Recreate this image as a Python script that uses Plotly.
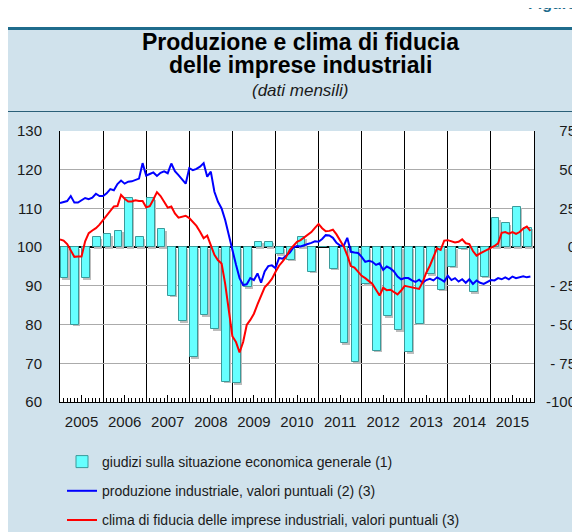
import plotly.graph_objects as go

# ---------------- data ----------------
years = list(range(2005, 2016))
year_labels = [str(y) for y in years]

# produzione industriale (monthly, Jan 2005 - Dec 2015), left axis
produzione = [
    111.4, 111.6, 111.9, 113.2, 111.5, 111.5, 112.2, 112.7, 112.4, 112.8, 113.8, 113.2,
    113.2, 113.9, 115.0, 114.7, 116.3, 117.2, 116.4, 116.9, 117.0, 117.4, 117.7, 121.7,
    118.5, 118.9, 119.3, 118.4, 119.2, 119.6, 119.1, 121.6, 119.6, 118.6, 117.6, 116.4,
    120.4, 119.9, 120.2, 120.8, 121.7, 118.2, 119.5, 114.3, 111.7, 110.0, 107.0, 103.0,
    99.2, 95.5, 92.0, 90.2, 90.4, 92.0, 91.5, 93.2, 90.8, 93.7, 95.1, 95.3,
    94.6, 97.2, 97.0, 97.7, 98.6, 99.9, 100.3, 100.2, 100.4, 100.8, 101.1, 101.5,
    101.4, 102.1, 103.1, 103.0, 102.4, 101.1, 100.4, 100.3, 102.4, 98.8, 98.6, 98.5,
    97.5, 96.2, 96.5, 96.2, 95.4, 95.8, 94.1, 95.0, 94.5, 93.7, 92.4, 91.7,
    92.0, 92.0, 91.4, 91.0, 91.6, 90.8, 91.5, 91.8, 91.4, 92.2, 91.7, 91.1,
    92.6, 91.5, 92.0, 91.1, 91.7, 90.8, 91.7, 90.5, 91.4, 90.8, 90.5, 91.1,
    91.5, 91.4, 92.0, 91.7, 92.2, 91.7, 92.4, 92.0, 92.2, 92.5, 92.2, 92.4,
]

# clima di fiducia delle imprese industriali (monthly), left axis
clima = [
    102.0, 101.7, 100.8, 99.0, 97.5, 97.6, 97.6, 101.5, 103.6, 104.3, 104.9, 105.8,
    107.0, 108.3, 109.3, 110.5, 110.6, 113.5, 112.5, 111.8, 111.8, 112.1, 111.9, 111.9,
    110.3, 110.6, 112.3, 114.2, 113.2, 111.8, 110.2, 110.5, 108.7, 107.6, 107.8, 108.1,
    107.5, 106.5, 105.5, 104.0, 102.3, 103.0, 100.2, 98.0, 96.6, 95.8, 90.5, 83.0,
    77.0, 75.5, 72.8, 75.5, 79.9, 81.2, 82.8, 85.2, 87.3, 89.6, 90.6, 91.8,
    93.6, 95.2, 96.3, 97.5, 99.3, 100.3, 101.4, 101.8, 102.5, 103.0, 103.9, 105.0,
    106.0, 104.9, 104.1, 104.2, 104.5, 103.3, 101.8, 100.2, 97.9, 95.1, 94.7, 93.7,
    92.6, 92.0, 91.3, 90.5, 89.0, 87.5, 89.5, 88.9, 89.0, 88.5, 87.8, 88.8,
    90.0, 89.8, 89.6, 89.3, 89.2, 91.0, 93.4, 95.2, 97.3, 99.7, 99.3, 101.7,
    101.8, 101.5, 101.2, 101.4, 102.0, 101.0, 100.8, 99.0, 97.8, 98.4, 98.8, 99.3,
    99.8, 100.3, 101.0, 103.7, 103.9, 103.5, 103.9, 103.4, 103.9, 104.8, 105.3, 104.2,
]

# giudizi sulla situazione economica generale (quarterly), right axis
giudizi = [
    -20, -50, -20, 6.5,
    8.5, 10.5, 32, 6.5,
    31.5, 11.5, -31.5, -48,
    -71, -44, -53, -87,
    -88, -26, 3.5, 3.5,
    -4.5, -8, 6.5, -16,
    0, -14, -62, -74,
    -24, -67, -44.5, -53.5,
    -68, -49.5, -17.5, -27.5,
    -12.5, -1, -29, -19,
    18.5, 15.5, 26, 12.5,
]

left_ticks = [60, 70, 80, 90, 100, 110, 120, 130]
right_ticks = [-100, -75, -50, -25, 0, 25, 50, 75]
right_ticktext = ["-100", "- 75", "- 50", "- 25", "0", "25", "50", "75"]

names = [
    "giudizi sulla situazione economica generale (1)",
    "produzione industriale, valori puntuali (2) (3)",
    "clima di fiducia delle imprese industriali, valori puntuali (3)",
]

# ---------------- positions ----------------
x_month = [years[0] + i / 12 for i in range(len(produzione))]
x_quarter = [years[0] + i / 4 + 0.105 for i in range(len(giudizi))]
x_start, x_end = years[0], years[-1] + 1

# the page has an 8px body margin: page pixel = figure pixel + 8
OFF = 8
W, H = 572, 524
L, R, T, B = 52, 2, 123, 130
PW, PH = W - L - R, H - T - B


def xp(page_px):
    return (page_px - OFF - L) / PW


def yp(page_py):
    return (H - B - (page_py - OFF)) / PH


FONT = "Liberation Sans, Arial, Helvetica, sans-serif"
TXT = "#1a1a1a"
PANEL = "#D0E2EC"
TEAL = "#1F6C8C"

fig = go.Figure()

# bar shadow
fig.add_trace(go.Bar(
    x=[v + 0.03 for v in x_quarter], y=giudizi, base=-1, width=0.18,
    marker=dict(color="#BDBDBD", line=dict(width=0)),
    xaxis="x", yaxis="y", showlegend=False, hoverinfo="skip", legendgroup="a",
))
fig.add_trace(go.Bar(
    x=x_quarter, y=giudizi, width=0.18, name=names[0],
    marker=dict(color="#66FFFF", line=dict(color="#3A9A9A", width=1)),
    xaxis="x", yaxis="y", legendgroup="a",
))
fig.add_trace(go.Scatter(
    x=x_month, y=produzione, mode="lines", name=names[1],
    line=dict(color="#0000FF", width=2), xaxis="x2", yaxis="y2", legendgroup="b",
))
fig.add_trace(go.Scatter(
    x=x_month, y=clima, mode="lines", name=names[2],
    line=dict(color="#FF0000", width=2), xaxis="x2", yaxis="y2", legendgroup="c",
))

dom_end = xp(534)

fig.update_layout(
    width=W, height=H,
    margin=dict(l=L, r=R, t=T, b=B, autoexpand=False),
    paper_bgcolor=PANEL, plot_bgcolor="white",
    barmode="overlay", bargap=0,
    font=dict(family=FONT, size=15, color=TXT),
    showlegend=True,
    legend=dict(
        x=xp(62), y=yp(446), xanchor="left", yanchor="top",
        bgcolor="rgba(0,0,0,0)", font=dict(size=14, color=TXT),
        tracegroupgap=8, itemwidth=30, traceorder="grouped",
    ),
    xaxis=dict(
        domain=[0, dom_end], range=[x_start, x_end], anchor="y", automargin=False,
        tickmode="array", tickvals=[y + 0.5 for y in years], ticktext=year_labels,
        ticks="inside", ticklen=7, tickcolor="black", tickwidth=1,
        ticklabelstandoff=6,
        minor=dict(
            tickmode="array",
            tickvals=[y + m / 12 for y in years for m in range(1, 12) if m != 6],
            ticks="inside", ticklen=4, tickcolor="black", tickwidth=1, showgrid=False,
        ),
        showgrid=False, zeroline=False,
        showline=True, linecolor="black", linewidth=1,
        tickfont=dict(size=15, color=TXT),
    ),
    xaxis2=dict(
        overlaying="x", anchor="y2", range=[x_start, x_end], automargin=False,
        tickmode="array", tickvals=years[1:],
        showgrid=True, gridcolor="black", gridwidth=1,
        showticklabels=False, ticks="", showline=False, zeroline=False,
    ),
    yaxis=dict(
        range=[right_ticks[0], right_ticks[-1]], automargin=False,
        anchor="free", position=1, side="left",
        tickmode="array", tickvals=right_ticks, ticktext=right_ticktext,
        showgrid=False, zeroline=True, zerolinecolor="black", zerolinewidth=1.5,
        showline=False, ticks="", ticklabelstandoff=2,
        tickfont=dict(size=15, color=TXT),
    ),
    yaxis2=dict(
        overlaying="y", side="left", anchor="x", automargin=False,
        range=[left_ticks[0], left_ticks[-1]],
        tickmode="array", tickvals=left_ticks,
        showgrid=True, gridcolor="#ABABAB", gridwidth=1,
        zeroline=False, showline=True, linecolor="black", linewidth=1, mirror=True,
        ticks="", ticklabelstandoff=14,
        tickfont=dict(size=15, color=TXT),
    ),
    shapes=[
        dict(type="rect", xref="paper", yref="paper", x0=xp(0), x1=xp(600), y0=yp(27), y1=yp(0),
             fillcolor="white", line=dict(width=0), layer="above"),
        dict(type="line", xref="paper", yref="paper", x0=xp(0), x1=xp(600), y0=yp(28.5), y1=yp(28.5),
             line=dict(color=TEAL, width=3), layer="above"),
        dict(type="line", xref="paper", yref="paper", x0=xp(0), x1=xp(600), y0=yp(111.5), y1=yp(111.5),
             line=dict(color="#2A5F78", width=1), layer="above"),
    ],
    annotations=[
        dict(text="<b>Produzione e clima di fiducia</b>", xref="paper", yref="paper",
             x=xp(300), y=yp(42), xanchor="center", yanchor="middle", showarrow=False,
             font=dict(size=23, color="black", family=FONT)),
        dict(text="<b>delle imprese industriali</b>", xref="paper", yref="paper",
             x=xp(300), y=yp(65), xanchor="center", yanchor="middle", showarrow=False,
             font=dict(size=23, color="black", family=FONT)),
        dict(text="<i>(dati mensili)</i>", xref="paper", yref="paper",
             x=xp(300), y=yp(90), xanchor="center", yanchor="middle", showarrow=False,
             font=dict(size=17, color=TXT, family=FONT)),
        dict(text="<b>Figura 1</b>", xref="paper", yref="paper",
             x=xp(526), y=yp(14), xanchor="left", yanchor="bottom", showarrow=False,
             font=dict(size=16, color=TEAL, family=FONT)),
    ],
)

fig.write_html("out.html")
